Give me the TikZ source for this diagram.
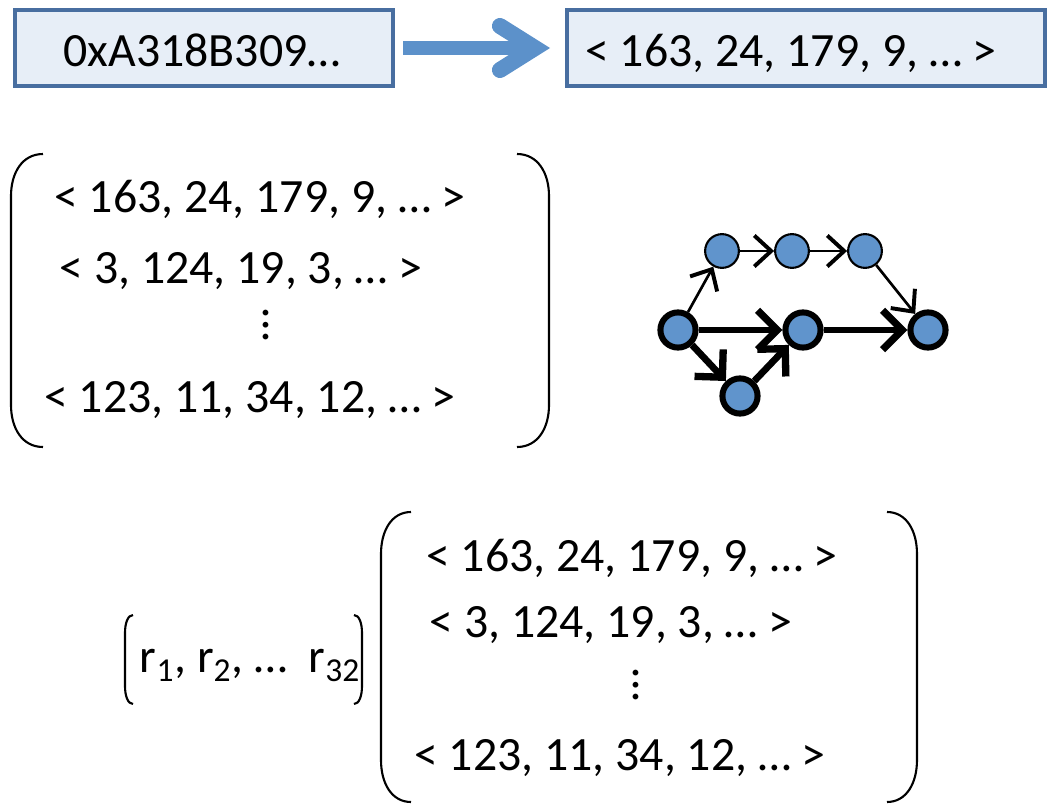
\documentclass[tikz,border=0pt]{standalone}
\usepackage{fontspec}
\setmainfont{Carlito}
\usetikzlibrary{arrows.meta}

\definecolor{boxfill}{RGB}{231,238,247}
\definecolor{boxline}{RGB}{72,110,160}
\definecolor{arrowblue}{RGB}{92,145,202}
\definecolor{nodeblue}{RGB}{96,148,204}

\newcommand{\brak}[5]{%
  \draw[paren] (#1+#4,#2) .. controls (#1+0.35*#4,#2) and (#1,#2+0.45*#5) .. (#1,#2+#5)
    -- (#1,#3-#5) .. controls (#1,#3-0.45*#5) and (#1+0.35*#4,#3) .. (#1+#4,#3);}

\begin{document}
\begin{tikzpicture}[x=0.025cm,y=-0.025cm,
    every node/.style={font=\fontsize{34}{40}\selectfont, inner sep=0pt},
    vecbox/.style={draw=boxline, fill=boxfill, line width=2.8pt, minimum height=1.9cm},
    row/.style={anchor=base},
    vdot/.style={rotate=90, font=\fontsize{34}{40}\selectfont},
    paren/.style={line width=1.5pt},
    gnode/.style={circle, draw=black, fill=nodeblue, line width=1.5pt, minimum size=24pt},
    gnodeb/.style={gnode, line width=4.3pt, minimum size=25pt},
    thinedge/.style={-{Straight Barb[length=12pt,width=22pt,line width=2.8pt]}, line width=1.9pt},
    thickedge/.style={-{Straight Barb[length=14pt,width=28pt,line width=5.2pt]}, line width=4.8pt},
    shaft/.style={draw=arrowblue, line width=10pt},
    chevron/.style={draw=arrowblue, line width=11.4pt, line cap=round, line join=miter}]
    \useasboundingbox (0,0) rectangle (1055,804);

    \node[vecbox, minimum width=9.45cm] (hex) at (204,48) {};
    \node[vecbox, minimum width=11.95cm] (vec) at (806,48) {};
    \node[row] (hextxt) at (202,66) {0xA318B309…};
    \node[row] (vectxt) at (791,66) {< 163, 24, 179, 9, … >};

    \coordinate (tip) at ([xshift=-0.75cm]vec.west);
    \draw[shaft] ([xshift=0.2cm]hex.east) -- ([xshift=-0.1cm]tip);
    \draw[chevron] ([shift={(-35,-22)}]tip) -- (tip) -- ([shift={(-35,22)}]tip);

    \brak{11}{154}{447}{32}{42}
    \brak{549}{154}{447}{-32}{42}
    \node[row] (m1) at (260,212) {< 163, 24, 179, 9, … >};
    \node[row] (m2) at (241,283) {< 3, 124, 19, 3, … >};
    \node[vdot] (m3) at (266,325) {…};
    \node[row] (m4) at (250,412) {< 123, 11, 34, 12, … >};

    \node[gnode] (a1) at (722,251) {};
    \node[gnode] (a2) at (792,251) {};
    \node[gnode] (a3) at (865,251) {};
    \node[gnodeb] (b1) at (678,330) {};
    \node[gnodeb] (b2) at (803,330) {};
    \node[gnodeb] (b3) at (928,330) {};
    \node[gnodeb] (c) at (740,396) {};
    \draw[thinedge] (b1) -- (a1);
    \draw[thinedge] (a1) -- (a2);
    \draw[thinedge] (a2) -- (a3);
    \draw[thinedge] (a3) -- (b3);
    \draw[thickedge] (b1) -- (b2);
    \draw[thickedge] (b2) -- (b3);
    \draw[thickedge] (b1) -- (c);
    \draw[thickedge] (c) -- (b2);

    \brak{125}{615}{704}{8}{18}
    \brak{362}{615}{704}{-8}{18}
    \node[row] (r) at (250,672) {r\textsubscript{1}, r\textsubscript{2}, …~~r\textsubscript{32}};

    \brak{381}{512}{802}{30}{42}
    \brak{917}{512}{802}{-30}{42}
    \node[row] (n1) at (632,571) {< 163, 24, 179, 9, … >};
    \node[row] (n2) at (611,637) {< 3, 124, 19, 3, … >};
    \node[vdot] (n3) at (636,685) {…};
    \node[row] (n4) at (620,770) {< 123, 11, 34, 12, … >};
\end{tikzpicture}
\end{document}
